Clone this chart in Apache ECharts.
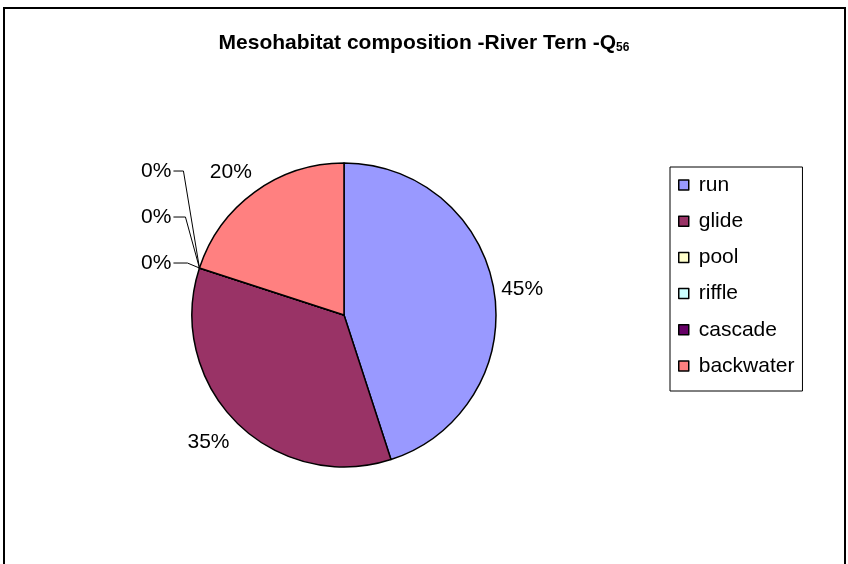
<!DOCTYPE html>
<html>
<head>
<meta charset="utf-8">
<script src="https://cdn.jsdelivr.net/npm/echarts@6/dist/echarts.min.js"></script>
<style>
  html, body { margin: 0; padding: 0; background: #fff; }
  #main { width: 848px; height: 564px; }
</style>
</head>
<body>
<div id="main"></div>
<script>
// mesohabitat classes and their share (%)
var categories = ['run', 'glide', 'pool', 'riffle', 'cascade', 'backwater'];
var shares = [45, 35, 0, 0, 0, 20];
var colors = ['#9999FF', '#993366', '#FFFFCC', '#CCFFFF', '#660066', '#FF8080'];

var chart = echarts.init(document.getElementById('main'));

var zeroOrder = {}; // stacking order of the 0% labels
var nz = 0;
shares.forEach(function (v, i) { if (v === 0) zeroOrder[i] = nz++; });

var pieData = categories.map(function (name, i) {
  var item = { name: name, value: shares[i], itemStyle: { color: colors[i] } };
  if (shares[i] === 0) {
    item.labelLine = { lineStyle: { color: '#000', width: 1, opacity: 1 } };
  }
  return item;
});

// place labels roughly the way excel does it
function labelLayout(params) {
  var pts = params.labelLinePoints;
  if (!pts) return {};
  var p0 = pts[0], p1 = pts[1];
  var dx = p1[0] - p0[0], dy = p1[1] - p0[1];
  var len = Math.sqrt(dx * dx + dy * dy) || 1;
  dx /= len; dy /= len;
  var i = params.dataIndex;
  if (shares[i] === 0) {
    var k = zeroOrder[i];
    var y = p0[1] - 97 + k * 46;
    var xr = p0[0] - 28;
    return {
      x: xr, y: y, align: 'right', verticalAlign: 'middle',
      labelLinePoints: [[p0[0], p0[1]], [p0[0] - 16 + k * 2, y], [xr + 2, y]]
    };
  }
  var w = params.labelRect.width, h = params.labelRect.height;
  var d = 6 + Math.abs(dx) * w / 2 + Math.abs(dy) * h / 2;
  var x = p0[0] + dx * d;
  if (dx < 0) x -= 8;
  return { x: x, y: p0[1] + dy * d + (dy < 0 ? 2 : 0), align: 'center', verticalAlign: 'middle' };
}

var option = {
  backgroundColor: '#fff',
  animation: false,
  title: {
    text: '{t|Mesohabitat composition -River Tern -Q}{s|56}',
    left: 'center',
    top: 27,
    textStyle: {
      rich: {
        t: { fontFamily: 'Liberation Sans', fontWeight: 'bold', fontSize: 21, color: '#000' },
        s: { fontFamily: 'Liberation Sans', fontWeight: 'bold', fontSize: 12, color: '#000', padding: [10, 0, 0, 0] }
      }
    }
  },
  legend: {
    orient: 'vertical',
    left: 670,
    top: 167,
    padding: [7, 8, 14, 8],
    borderColor: '#000',
    borderWidth: 1,
    itemWidth: 10,
    itemHeight: 10,
    itemGap: 14.2,
    icon: 'rect',
    itemStyle: { borderColor: '#000', borderWidth: 1.5 },
    textStyle: { fontFamily: 'Liberation Sans', fontSize: 21, color: '#000', lineHeight: 22, padding: [0, 0, 0, 5] },
    data: categories
  },
  graphic: [{
    type: 'rect',
    shape: { x: 4, y: 8, width: 841, height: 620 },
    style: { fill: 'none', stroke: '#000', lineWidth: 2 },
    silent: true
  }],
  series: [{
    type: 'pie',
    center: [344, 315],
    radius: 152,
    startAngle: 90,
    clockwise: true,
    avoidLabelOverlap: false,
    itemStyle: { borderColor: '#000', borderWidth: 1.5 },
    label: {
      show: true,
      position: 'outside',
      formatter: '{d}%',
      fontFamily: 'Liberation Sans',
      fontSize: 21,
      color: '#000'
    },
    labelLine: { show: true, length: 14, length2: 0, lineStyle: { opacity: 0 } },
    labelLayout: labelLayout,
    emphasis: { disabled: true },
    data: pieData
  }]
};

chart.setOption(option);
</script>
</body>
</html>
